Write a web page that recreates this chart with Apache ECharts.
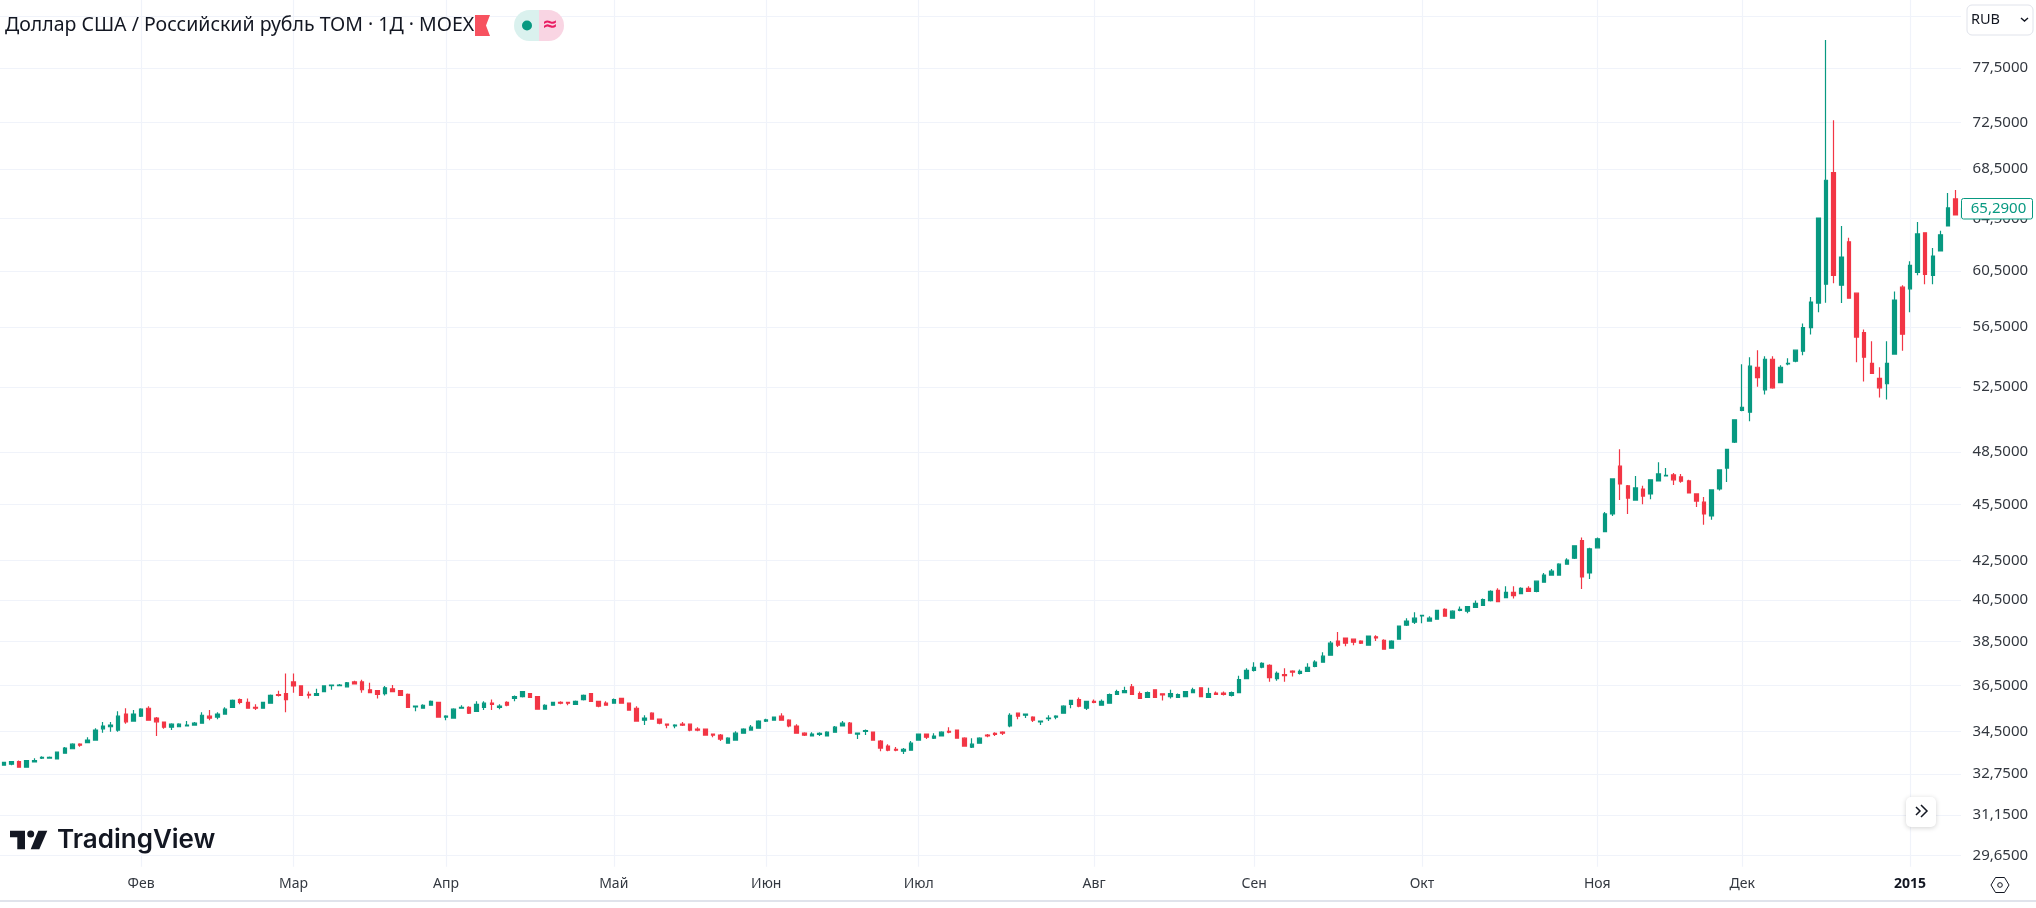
<!DOCTYPE html>
<html><head><meta charset="utf-8">
<style>html,body{margin:0;padding:0;background:#fff}#c{width:2036px;height:908px}</style>
<script src="https://cdn.jsdelivr.net/npm/echarts@6/dist/echarts.min.js"></script>
</head><body><div id="c"></div>
<script>
const opens = [
33.11,33.15,33.26,33.03,33.24,33.40,33.40,33.36,33.60,33.78,
33.97,34.03,34.14,34.61,34.70,34.56,35.24,34.94,35.15,35.49,
35.07,34.90,34.68,34.70,34.73,34.77,34.85,35.15,35.11,35.24,
35.53,35.87,35.75,35.53,35.49,35.71,36.09,36.13,36.65,36.47,
36.10,36.05,36.22,36.48,36.48,36.43,36.65,36.65,36.30,36.26,
36.13,36.34,36.26,36.10,35.55,35.49,35.62,35.75,35.11,35.07,
35.49,35.53,35.36,35.53,35.71,35.53,35.75,35.92,36.00,36.13,
36.00,35.45,35.62,35.75,35.75,35.66,35.87,36.13,35.79,35.71,
35.71,35.92,35.71,35.49,34.98,35.28,35.02,34.81,34.73,34.81,
34.81,34.60,34.60,34.39,34.35,34.01,34.14,34.43,34.56,34.64,
34.94,34.98,35.15,34.98,34.73,34.43,34.31,34.38,34.31,34.47,
34.73,34.85,34.39,34.50,34.47,34.10,33.89,33.76,33.68,33.72,
34.14,34.39,34.22,34.31,34.51,34.56,34.22,33.85,34.01,34.35,
34.42,34.47,34.73,35.28,35.19,35.11,34.91,35.04,35.11,35.28,
35.66,35.87,35.49,35.79,35.62,35.71,36.09,36.17,36.43,36.13,
35.96,36.30,36.12,36.00,35.96,36.00,36.17,36.39,35.96,36.15,
36.15,36.05,36.17,36.80,37.17,37.31,37.40,36.80,36.98,37.14,
37.03,37.12,37.35,37.54,37.86,38.52,38.66,38.61,38.52,38.33,
38.72,38.56,38.19,38.61,39.28,39.42,39.72,39.47,39.56,40.04,
39.61,39.99,39.95,40.14,40.23,40.47,40.98,40.62,40.88,40.82,
41.08,40.93,41.39,41.75,41.75,42.31,42.62,43.54,41.86,43.16,
44.02,44.98,47.68,46.55,45.75,46.37,46.09,46.83,47.11,47.17,
47.06,46.83,46.09,45.63,44.87,46.37,47.57,49.10,51.04,50.92,
53.79,52.33,54.32,52.79,54.01,54.19,54.85,56.46,58.17,59.52,
68.21,59.45,62.68,58.88,56.12,54.05,53.06,52.72,54.66,59.31,
59.19,60.38,63.37,60.17,61.99,63.91,66.05,64.40];
const closes = [
33.22,33.26,33.03,33.30,33.30,33.43,33.43,33.64,33.81,33.97,
33.93,34.14,34.56,34.73,34.77,35.15,34.91,35.24,35.45,34.98,
34.91,34.68,34.81,34.81,34.77,34.85,35.19,35.07,35.24,35.45,
35.83,35.75,35.49,35.49,35.75,36.05,36.05,35.87,36.47,36.05,
36.06,36.13,36.47,36.51,36.51,36.61,36.56,36.30,36.17,36.09,
36.39,36.22,36.05,35.53,35.58,35.62,35.79,35.11,35.15,35.45,
35.53,35.28,35.66,35.71,35.66,35.58,35.62,36.00,36.22,35.96,
35.45,35.62,35.75,35.71,35.71,35.79,36.05,35.79,35.58,35.62,
35.87,35.71,35.41,34.94,35.07,35.02,34.85,34.77,34.77,34.77,
34.56,34.56,34.35,34.35,34.18,34.22,34.43,34.60,34.68,34.94,
34.99,35.11,34.98,34.73,34.43,34.35,34.39,34.42,34.47,34.68,
34.85,34.43,34.43,34.54,34.14,33.81,33.72,33.72,33.76,34.01,
34.39,34.26,34.31,34.47,34.47,34.22,33.89,33.97,34.22,34.31,
34.38,34.43,35.19,35.15,35.24,34.98,34.94,35.07,35.15,35.58,
35.83,35.58,35.79,35.75,35.79,36.09,36.22,36.26,36.09,35.92,
36.17,35.96,36.07,36.13,36.09,36.22,36.30,36.00,36.13,36.10,
36.10,36.17,36.75,37.17,37.31,37.49,36.84,37.03,36.93,37.09,
37.12,37.31,37.54,37.82,38.42,38.33,38.42,38.47,38.42,38.76,
38.67,38.14,38.52,39.23,39.47,39.61,39.75,39.61,39.99,39.71,
39.95,40.04,40.18,40.33,40.52,40.93,40.42,40.88,40.72,41.08,
40.93,41.44,41.75,41.95,42.31,42.52,43.27,41.65,43.11,43.64,
44.98,46.94,46.66,45.86,46.43,45.97,46.89,47.23,47.15,46.89,
46.81,46.15,45.69,44.98,46.32,47.46,48.67,50.45,51.23,53.86,
53.12,54.32,52.46,53.79,54.05,54.92,56.46,58.24,64.52,67.57,
60.17,61.53,58.52,55.81,54.45,53.39,52.46,54.05,58.38,56.00,
60.91,63.29,60.24,61.60,63.22,65.33,64.77,65.29];
const lows = [
33.11,33.11,33.03,33.03,33.24,33.36,33.39,33.36,33.60,33.78,
33.86,34.03,34.14,34.45,34.49,34.49,34.83,34.94,35.11,34.98,
34.31,34.61,34.56,34.70,34.73,34.77,34.85,34.98,35.02,35.21,
35.53,35.66,35.49,35.41,35.49,35.71,36.00,35.32,36.17,36.05,
35.92,36.05,36.22,36.30,36.47,36.43,36.56,36.17,36.17,35.92,
36.05,36.22,36.05,35.53,35.36,35.49,35.62,35.11,34.98,35.07,
35.49,35.24,35.36,35.41,35.41,35.45,35.58,35.79,35.96,35.96,
35.45,35.45,35.62,35.66,35.62,35.66,35.83,35.79,35.53,35.62,
35.71,35.71,35.41,34.94,34.77,35.02,34.81,34.64,34.64,34.73,
34.51,34.51,34.35,34.26,34.10,34.01,34.14,34.43,34.56,34.64,
34.90,34.98,34.98,34.68,34.43,34.31,34.31,34.31,34.31,34.47,
34.73,34.43,34.18,34.35,34.14,33.68,33.68,33.68,33.56,33.72,
34.14,34.18,34.18,34.31,34.43,34.22,33.89,33.81,34.01,34.26,
34.31,34.35,34.68,35.02,35.07,34.90,34.77,34.94,35.02,35.28,
35.49,35.53,35.41,35.71,35.62,35.71,36.09,36.17,36.09,35.92,
35.96,35.96,35.83,35.92,35.96,36.00,36.17,36.00,35.96,36.10,
36.05,36.00,36.17,36.80,37.12,37.26,36.66,36.70,36.66,36.89,
36.98,37.12,37.31,37.54,37.86,38.24,38.28,38.33,38.38,38.33,
38.52,38.14,38.19,38.61,39.23,39.33,39.37,39.47,39.56,39.71,
39.61,39.95,39.85,40.14,40.23,40.42,40.42,40.62,40.57,40.82,
40.93,40.88,41.39,41.75,41.75,42.31,42.57,41.04,41.55,43.16,
44.02,44.87,45.75,44.98,45.75,45.52,45.80,46.83,47.11,46.60,
46.72,46.15,45.36,44.39,44.66,46.28,46.77,49.04,50.98,50.37,
52.52,52.03,52.40,52.79,53.92,54.12,54.59,55.99,57.52,58.19,
59.60,58.17,58.52,54.12,52.86,53.39,51.84,51.71,54.66,54.88,
57.52,60.17,59.52,59.52,61.99,63.91,64.77,64.37];
const highs = [
33.22,33.26,33.30,33.30,33.39,33.47,33.46,33.64,33.85,34.01,
34.01,34.26,34.64,34.90,34.90,35.36,35.49,35.41,35.49,35.58,
35.11,34.90,34.85,34.85,34.94,34.90,35.32,35.41,35.32,35.53,
35.87,35.92,35.92,35.66,35.75,36.09,36.26,37.03,37.03,36.47,
36.22,36.34,36.47,36.51,36.56,36.65,36.70,36.75,36.61,36.26,
36.47,36.51,36.26,36.13,35.58,35.66,35.83,35.75,35.19,35.49,
35.62,35.58,35.79,35.79,35.87,35.66,35.79,36.05,36.22,36.13,
36.00,35.66,35.75,35.79,35.75,35.83,36.09,36.13,35.79,35.79,
35.92,35.92,35.71,35.58,35.19,35.32,35.02,34.81,34.81,34.90,
34.81,34.68,34.60,34.39,34.39,34.26,34.51,34.64,34.77,34.98,
35.04,35.11,35.28,35.02,34.81,34.47,34.47,34.47,34.51,34.73,
34.94,34.90,34.43,34.58,34.47,34.14,33.97,33.85,33.81,34.10,
34.39,34.39,34.43,34.51,34.68,34.56,34.26,34.22,34.26,34.39,
34.47,34.51,35.28,35.28,35.24,35.15,34.94,35.19,35.19,35.62,
35.83,35.96,35.79,35.87,35.87,36.13,36.30,36.43,36.56,36.22,
36.22,36.30,36.12,36.30,36.13,36.22,36.39,36.39,36.39,36.22,
36.22,36.22,36.93,37.26,37.54,37.54,37.45,37.12,37.26,37.17,
37.21,37.49,37.63,38.00,38.52,38.95,38.66,38.61,38.56,38.76,
38.80,38.61,38.56,39.23,39.61,39.90,39.75,39.71,39.99,40.09,
39.99,40.18,40.18,40.47,40.57,40.98,41.08,41.18,41.18,41.13,
41.18,41.44,41.85,42.06,42.36,42.62,43.27,43.70,43.16,43.70,
45.09,46.94,48.67,46.60,47.11,46.55,46.89,47.91,47.57,47.29,
47.23,46.89,46.09,45.92,46.32,47.46,48.67,50.45,53.99,54.45,
54.92,54.52,54.52,53.92,54.39,54.92,56.74,58.60,64.52,80.17,
72.70,63.91,62.99,58.88,56.32,55.52,53.79,55.52,59.00,59.45,
61.22,64.22,63.37,62.22,63.53,66.53,66.77,65.50];
const monthBars = [18,38,58,80,100,120,143,164,186,209,228,250];
const monthLabels = ['Фев','Мар','Апр','Май','Июн','Июл','Авг','Сен','Окт','Ноя','Дек','2015'];
const priceTicks = [77.5,72.5,68.5,64.5,60.5,56.5,52.5,48.5,45.5,42.5,40.5,38.5,36.5,34.5,32.75,31.15,29.65];
const gridTicks = [82.5].concat(priceTicks);
const lastPrice = '65,2900';
const titleText = 'Доллар США / Российский рубль TOM · 1Д · MOEX';

const categories = opens.map((_, i) => { const k = monthBars.indexOf(i); return k >= 0 ? monthLabels[k] : String(i); });
const candles = opens.map((o, i) => [o, closes[i], lows[i], highs[i]]);
const isMonth = i => monthBars.indexOf(i) >= 0;
const GREEN = '#089981', RED = '#F23645', GRID = '#f0f3fa', TXT = '#131722';
const axisFont = '"Noto Sans"';
const yMin = 29.255, yMax = 84.18;

const chart = echarts.init(document.getElementById('c'), null, {renderer: 'canvas', width: 2036, height: 908});
chart.setOption({
  animation: false, backgroundColor: '#ffffff',
  grid: {left: -4.02, top: 0, width: 1971.1, height: 866.7, containLabel: false},
  xAxis: {
    type: 'category', data: categories, boundaryGap: true,
    axisLine: {show: false},
    axisTick: {show: false, alignWithLabel: true, interval: i => isMonth(i)},
    splitLine: {show: true, alignWithLabel: true, interval: i => isMonth(i), lineStyle: {color: GRID, width: 1.2}},
    axisLabel: {
      interval: i => isMonth(i), margin: 10, color: '#333840', fontFamily: axisFont, fontSize: 14,
      formatter: v => v === '2015' ? '{b|2015}' : v,
      rich: {b: {fontWeight: 'bold', fontFamily: axisFont, fontSize: 14, color: TXT}}
    }
  },
  yAxis: [
    {type: 'log', logBase: 10, min: yMin, max: yMax, position: 'left', z: 0,
     axisLine: {show: false}, axisLabel: {show: false},
     axisTick: {show: false, customValues: gridTicks},
     splitLine: {show: true, lineStyle: {color: GRID, width: 1.2}}},
    {type: 'log', logBase: 10, min: yMin, max: yMax, position: 'right', z: 10,
     axisLine: {show: false}, axisTick: {show: false},
     splitLine: {show: false},
     axisLabel: {show: true, customValues: priceTicks, inside: false, margin: 5.5, align: 'left',
       showMinLabel: true, showMaxLabel: true, hideOverlap: false,
       color: '#333840', fontFamily: axisFont, fontSize: 15,
       formatter: v => Number(v).toFixed(4).replace('.', ',')}}
  ],
  series: [{
    type: 'candlestick', data: candles, xAxisIndex: 0, yAxisIndex: 0, barWidth: 4, clip: true, z: 2,
    itemStyle: {color: GREEN, color0: RED, borderColor: GREEN, borderColor0: RED, borderWidth: 1.2}
  }],
  graphic: {elements: [
    {type: 'rect', z: 5, shape: {x: 1961, y: 0, width: 75, height: 908}, style: {fill: '#fff'}},
    {type: 'text', z: 20, x: 5, y: 25, style: {text: titleText, fill: TXT, font: '19.5px "Noto Sans"', textVerticalAlign: 'middle'}},
    {type: 'polygon', z: 20, shape: {points: [[475,15],[490,15],[486,25.5],[490,36],[475,36]]}, style: {fill: '#f7525f'}},
    {type: 'rect', z: 20, shape: {x: 514, y: 10, width: 25, height: 31, r: [15.5,0,0,15.5]}, style: {fill: '#daf1ee'}},
    {type: 'rect', z: 20, shape: {x: 539, y: 10, width: 25, height: 31, r: [0,15.5,15.5,0]}, style: {fill: '#f9d5e3'}},
    {type: 'circle', z: 21, shape: {cx: 527, cy: 25.5, r: 5}, style: {fill: GREEN}},
    {type: 'text', z: 21, x: 550, y: 25.5, style: {text: '≈', fill: '#e91e63', font: 'bold 19px "DejaVu Sans"', textAlign: 'center', textVerticalAlign: 'middle'}},
    {type: 'rect', z: 20, shape: {x: 1967, y: 5, width: 66, height: 30, r: 5}, style: {fill: '#fff', stroke: '#e0e3eb', lineWidth: 1}},
    {type: 'text', z: 21, x: 1971, y: 20, style: {text: 'RUB', fill: TXT, font: '14.5px "Noto Sans"', textVerticalAlign: 'middle'}},
    {type: 'polyline', z: 21, shape: {points: [[2021,18],[2024.5,21],[2028,18]]}, style: {fill: 'none', stroke: TXT, lineWidth: 1.4}},
    {type: 'rect', z: 20, shape: {x: 1961.5, y: 198.5, width: 71, height: 20.5, r: 2}, style: {fill: '#fff', stroke: GREEN, lineWidth: 1}},
    {type: 'text', z: 21, x: 1998.5, y: 208.5, style: {text: lastPrice, fill: GREEN, font: '15px "Noto Sans"', textAlign: 'center', textVerticalAlign: 'middle'}},
    {type: 'polygon', z: 20, shape: {points: [[10,830.7],[25,830.7],[25,849.3],[17.3,849.3],[17.3,837.3],[10,837.3]]}, style: {fill: TXT}},
    {type: 'circle', z: 20, shape: {cx: 30.7, cy: 834, r: 3.5}, style: {fill: TXT}},
    {type: 'polygon', z: 20, shape: {points: [[38.3,830.7],[47.3,830.7],[39.3,849.3],[30.7,849.3]]}, style: {fill: TXT}},
    {type: 'text', z: 20, x: 57, y: 840, style: {text: 'TradingView', fill: TXT, font: '600 26px Inter', textVerticalAlign: 'middle'}},
    {type: 'rect', z: 20, shape: {x: 1906, y: 797, width: 30, height: 30, r: 5}, style: {fill: '#fff', shadowBlur: 5, shadowColor: 'rgba(0,0,0,0.18)', shadowOffsetY: 1}},
    {type: 'polyline', z: 21, shape: {points: [[1916,807],[1920,811],[1916,815]]}, style: {fill: 'none', stroke: TXT, lineWidth: 1.5}},
    {type: 'polyline', z: 21, shape: {points: [[1921,805],[1927,811],[1921,817]]}, style: {fill: 'none', stroke: TXT, lineWidth: 1.5}},
    {type: 'polygon', z: 21, shape: {points: [[1991,885],[1995.5,877.5],[2004.5,877.5],[2009,885],[2004.5,892.5],[1995.5,892.5]]}, style: {fill: '#fff', stroke: TXT, lineWidth: 1}},
    {type: 'circle', z: 22, shape: {cx: 2000, cy: 885, r: 2.3}, style: {fill: '#fff', stroke: TXT, lineWidth: 1}},
    {type: 'rect', z: 20, shape: {x: 0, y: 900, width: 2036, height: 2}, style: {fill: '#e0e3eb'}}
  ]}
});
</script></body></html>
